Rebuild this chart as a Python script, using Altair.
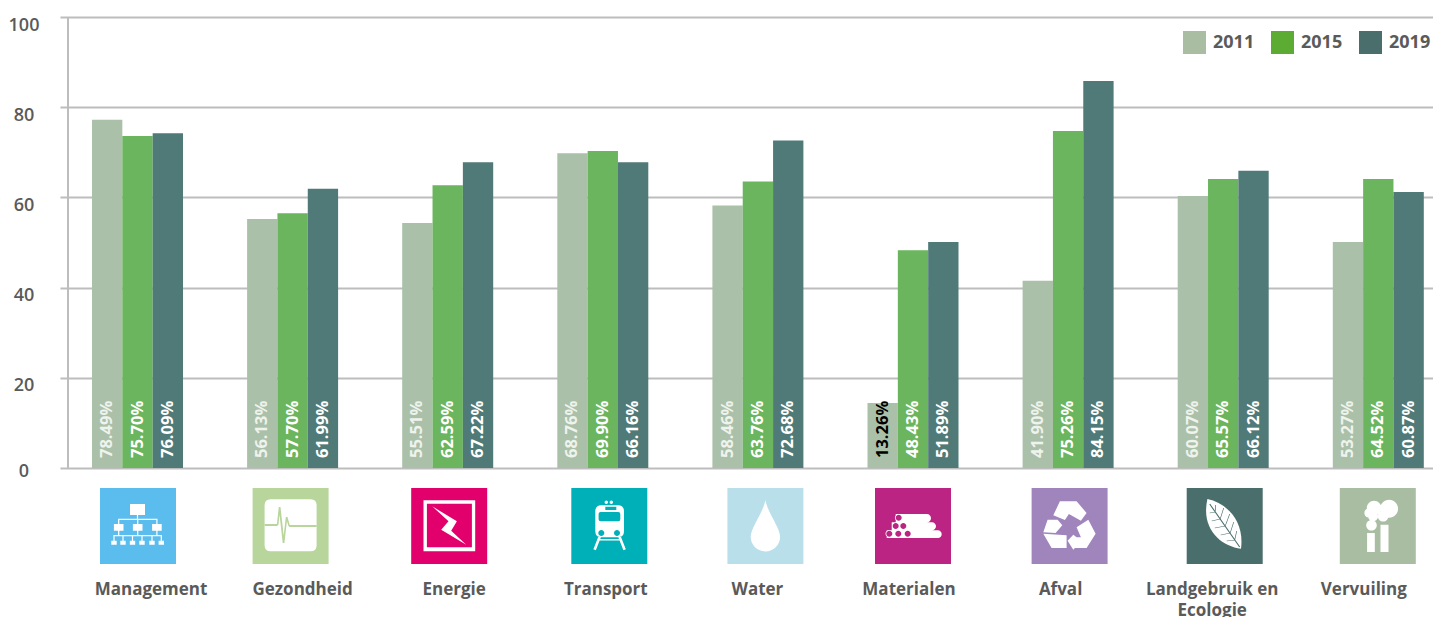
import altair as alt
import pandas as pd

# ---- data ----
categories = ["Management", "Gezondheid", "Energie", "Transport", "Water",
              "Materialen", "Afval", "Landgebruik en\nEcologie", "Vervuiling"]
years = ["2011", "2015", "2019"]
heights_2011 = [77.2, 55.2, 54.3, 69.8, 58.2, 14.4, 41.5, 60.3, 50.1]
heights_2015 = [73.6, 56.5, 62.7, 70.3, 63.5, 48.3, 74.7, 64.1, 64.1]
heights_2019 = [74.2, 61.9, 67.8, 67.8, 72.6, 50.1, 85.8, 65.9, 61.2]
labels_2011 = [78.49, 56.13, 55.51, 68.76, 58.46, 13.26, 41.90, 60.07, 53.27]
labels_2015 = [75.70, 57.70, 62.59, 69.90, 63.76, 48.43, 75.26, 65.57, 64.52]
labels_2019 = [76.09, 61.99, 67.22, 66.16, 72.68, 51.89, 84.15, 66.12, 60.87]

# ---- styles and layout ----
BAR_COLORS = {"2011": "#abc0a9", "2015": "#6ab55d", "2019": "#4f7a78"}
LEGEND_COLORS = ["#a9bda3", "#5cab33", "#4a6e6b"]
GREY = "#5a5a5a"
FONT = "Open Sans"
TILE_NUDGE = [0.5, -2, 1.5, 6.5, 7.5, 0, 1.5, 1.5, -0.5]
HALF_GROUP = 45.5


def R(x0, y0, x1, y1):
    return f"M{x0},{y0}H{x1}V{y1}H{x0}Z"


def C(cx, cy, r):
    return f"M{cx-r},{cy}A{r},{r} 0 1 1 {cx+r},{cy}A{r},{r} 0 1 1 {cx-r},{cy}Z"


def P(pts):
    return "M" + "L".join(f"{x},{y}" for x, y in pts) + "Z"


def V(pts):
    # polygon given in 228-wide zoom coordinates of a tile
    return P([(round(x / 3 - 38, 1), round(y / 3 - 38, 1)) for x, y in pts])


def L(x0, y0, x1, y1, w=1.2):
    dx, dy = x1 - x0, y1 - y0
    n = (dx * dx + dy * dy) ** 0.5
    ox, oy = -dy / n * w / 2, dx / n * w / 2
    return P([(round(x0 + ox, 2), round(y0 + oy, 2)), (round(x1 + ox, 2), round(y1 + oy, 2)),
              (round(x1 - ox, 2), round(y1 - oy, 2)), (round(x0 - ox, 2), round(y0 - oy, 2))])


def RR(x0, y0, x1, y1, r):
    return (f"M{x0+r},{y0}H{x1-r}Q{x1},{y0} {x1},{y0+r}V{y1-r}Q{x1},{y1} {x1-r},{y1}"
            f"H{x0+r}Q{x0},{y1} {x0},{y1-r}V{y0+r}Q{x0},{y0} {x0+r},{y0}Z")


def PIPE(x0, y0, x1, y1):
    r = (y1 - y0) / 2
    return f"M{x0},{y0}H{x1-r}A{r},{r} 0 0 1 {x1-r},{y1}H{x0}Z"


W = "#ffffff"
TILE = "M-38,-38H38V38H-38Z"
mid = [-19.3, -0.3, 18.9]
low = [-24, -15, -5.5, 4, 14, 23.3]
icons = {
    0: ("#5bbcee", [(W, "".join([
        R(-8, -22, 7, -11), L(-0.5, -11, -0.5, -6.7), L(-19.9, -6.7, 19.5, -6.7),
        *[L(x, -6.7, x, -2) for x in mid],
        *[R(x - 4.8, -2, x + 4.8, 4.7) for x in mid],
        *[L(x, 4.7, x, 9.7) for x in mid],
        L(-24.6, 9.7, 23.9, 9.7),
        *[L(x, 9.7, x, 14.7) for x in low],
        *[R(x - 2.7, 14.7, x + 2.7, 18.7) for x in low],
    ]))]),
    1: ("#b8d59b", [(W, RR(-26, -26.7, 26, 25.3, 6)),
                    ("#b8d59b", "".join([
                        L(-26, -1, -13, -1, 2), L(-13, -1, -11, -19, 1.6), L(-11, -19, -7, 17, 1.8),
                        L(-7, 17, -4, -9, 1.6), L(-4, -9, -1.4, 0, 1.6), L(-1.4, 0, 26, 0, 2)]))]),
    2: ("#e2006d", [(W, R(-25.7, -25.7, 26, 25.3)), ("#e2006d", R(-22.3, -22.3, 22.7, 21.3)),
                    (W, V([(63, 55), (137, 100), (120, 128), (165, 170), (90, 125), (112, 100)]))]),
    3: ("#00b0b9", [(W, RR(-14, -20.7, 14.7, 11.3, 6) + C(-3, -23.7, 1.7) + C(2, -23.7, 1.7)
                     + L(-9.7, 11, -14.7, 23.7, 2.6) + L(10.3, 11, 15.3, 23.7, 2.6) + L(-11, 13.7, 11.5, 13.7, 1.6)),
                    ("#00b0b9", RR(-10.7, -14, 11, -4.7, 2) + R(-4, -19.3, 7, -16)
                     + C(-8, 7, 3) + C(7.7, 7, 3))]),
    4: ("#b9dfeb", [(W, "M0,-26C2,-14 14.7,2 14.7,10.7A14.7,14.7 0 1 1 -14.7,10.7C-14.7,2 -2,-14 0,-26Z")]),
    5: ("#bb2483", [(W, PIPE(-17.3, -12, 18, -3.7) + PIPE(-21.3, -3.7, 23, 4.3) + PIPE(-26.3, 4.3, 28.7, 12)
                     + C(-14.3, -8.3, 3.8) + C(-17.3, 0, 3.8) + C(-23.7, 7.7, 3.8)),
                    ("#bb2483", C(-14.3, -8.3, 3) + C(-17.3, 0, 3) + C(-9.7, 0, 3)
                     + C(-23.7, 7.7, 3) + C(-14.7, 7.7, 3) + C(-5.3, 7.7, 3))]),
    6: ("#a085bd", [(W, V([(65, 82), (85, 40), (135, 40), (165, 75), (148, 98), (112, 78), (100, 96)])
                     + V([(48, 95), (78, 95), (92, 112), (72, 135), (35, 133)])
                     + V([(35, 137), (105, 142), (105, 180), (60, 180)])
                     + V([(170, 95), (192, 137), (165, 180), (130, 180), (125, 185), (108, 158),
                          (125, 140), (135, 148), (148, 148), (135, 118)]))]),
    7: ("#4a6e6b", [(W, "M-17.3,-27C2,-23 20,-5 16.3,22.7C-4,20 -24,3 -17.3,-27Z"),
                    ("#4a6e6b", L(-15, -22, 15, 21, 1.1)
                     + L(-9.5, -14, -9, -21, 0.7) + L(-4.5, -7, -1, -18, 0.7) + L(0.5, 0, 5, -12, 0.7)
                     + L(5.5, 7, 9, -4, 0.7) + L(10, 14, 12, 5, 0.7)
                     + L(-9.5, -14, -15, -13, 0.7) + L(-4.5, -7, -13, -5, 0.7) + L(0.5, 0, -10, 2, 0.7)
                     + L(5.5, 7, -4, 9, 0.7) + L(10, 14, 2, 15, 0.7))]),
    8: ("#a9bda3", [(W, R(-10.7, 7, -3, 26) + R(2.7, -1.3, 10.7, 26)
                     + C(-3.7, -18, 7.3) + C(-8.7, -13, 4.7) + C(-6.3, -0.7, 5.3)
                     + C(11.3, -17.3, 9) + C(5.3, -9.7, 5.3) + C(-4.7, -9.7, 5))]),
}

bars = pd.DataFrame([
    {"cat": c, "year": y, "value": h, "label": l, "text": f"{l:.2f}%"}
    for y, hs, ls in zip(years, [heights_2011, heights_2015, heights_2019],
                         [labels_2011, labels_2015, labels_2019])
    for c, h, l in zip(categories, hs, ls)
])
bars["bar_color"] = bars["year"].map(BAR_COLORS)
bars["text_color"] = [
    "#000000" if l < 20 else ("#eef3ed" if y == "2011" else "#ffffff")
    for l, y in zip(bars["label"], bars["year"])
]

icon_rows = []
order = 0
for i, c in enumerate(categories):
    bg, parts = icons[i]
    for ink, path in [(bg, TILE)] + parts:
        icon_rows.append({"cat": c, "nudge": TILE_NUDGE[i] + HALF_GROUP, "ink": ink, "path": path, "order": order})
        order += 1
icon_df = pd.DataFrame(icon_rows)

x_bars = alt.X("cat:N", sort=categories, axis=None, title=None,
               scale=alt.Scale(type="band", range=[4.95, 1400.85], paddingInner=0.4133, paddingOuter=0.20665))
x_off = alt.XOffset("year:N", sort=years, scale=alt.Scale(type="band", paddingInner=0, paddingOuter=0))
y_val = alt.Y("value:Q", title=None, scale=alt.Scale(domain=[0, 100], nice=False),
              axis=alt.Axis(values=[0, 20, 40, 60, 80, 100], grid=True, gridColor="#bdbdbd", gridWidth=2,
                            domain=False, ticks=False, labelAlign="center", labelPadding=31.5,
                            labelFont=FONT, labelFontSize=18, labelFontWeight=600, labelColor=GREY,
                            labelBaseline="middle",
                            labelOffset={"condition": {"test": "datum.value === 0", "value": 3}, "value": 8}))

bar_layer = alt.Chart(bars).mark_bar().encode(
    x=x_bars, xOffset=x_off, y=y_val,
    fill=alt.Fill("bar_color:N", scale=None),
)
text_layer = alt.Chart(bars).mark_text(
    angle=270, align="left", baseline="middle", font=FONT, fontSize=16.5, fontWeight="bold"
).encode(
    x=x_bars, xOffset=x_off, y=alt.value(441), text="text:N",
    fill=alt.Fill("text_color:N", scale=None),
)
axis_rule = alt.Chart(pd.DataFrame({"a": [0]})).mark_rule(color="#bdbdbd", strokeWidth=2).encode(
    x=alt.value(13), y=alt.value(0), y2=alt.value(451))
icon_layer = alt.Chart(icon_df).mark_point(filled=True, opacity=1, size=4, strokeWidth=0).encode(
    x=x_bars,
    xOffset=alt.XOffset("nudge:Q", scale=None),
    y=alt.value(509),
    shape=alt.Shape("path:N", scale=None),
    fill=alt.Fill("ink:N", scale=None),
    order=alt.Order("order:Q"),
)
name_layer = alt.Chart(pd.DataFrame({"cat": categories})).mark_text(
    font=FONT, fontSize=17, fontWeight="bold", color=GREY, baseline="alphabetic",
    lineBreak="\n", lineHeight=21,
).encode(
    x=alt.X("cat:N", sort=categories, axis=None,
            scale=alt.Scale(type="band", range=[20.2, 1384.6], paddingInner=0, paddingOuter=0)),
    y=alt.value(578), text="cat:N",
)
legend_layer = alt.Chart(pd.DataFrame({"year": years})).mark_square(size=0).encode(
    x=alt.value(0), y=alt.value(0),
    color=alt.Color("year:N", sort=years, scale=alt.Scale(domain=years, range=LEGEND_COLORS),
                    legend=alt.Legend(orient="none", legendX=1128, legendY=14, direction="horizontal",
                                      columns=3, title=None, symbolType="square", symbolSize=529,
                                      symbolOpacity=1, symbolStrokeWidth=0, labelFont=FONT, labelFontSize=18,
                                      labelFontWeight="bold", labelColor=GREY, labelOffset=7,
                                      columnPadding=16, padding=0, rowPadding=0)),
)

chart = alt.layer(bar_layer, text_layer, axis_rule, icon_layer, name_layer, legend_layer).resolve_scale(
    x="independent", xOffset="independent"
).properties(
    width=1378, height=451,
    padding={"left": 47, "top": 9, "right": 0, "bottom": 149},
    autosize=alt.AutoSizeParams(type="none"),
    background="#ffffff",
).configure_view(stroke=None)

chart.save("out.html", embed_options={"renderer": "svg", "actions": False})
